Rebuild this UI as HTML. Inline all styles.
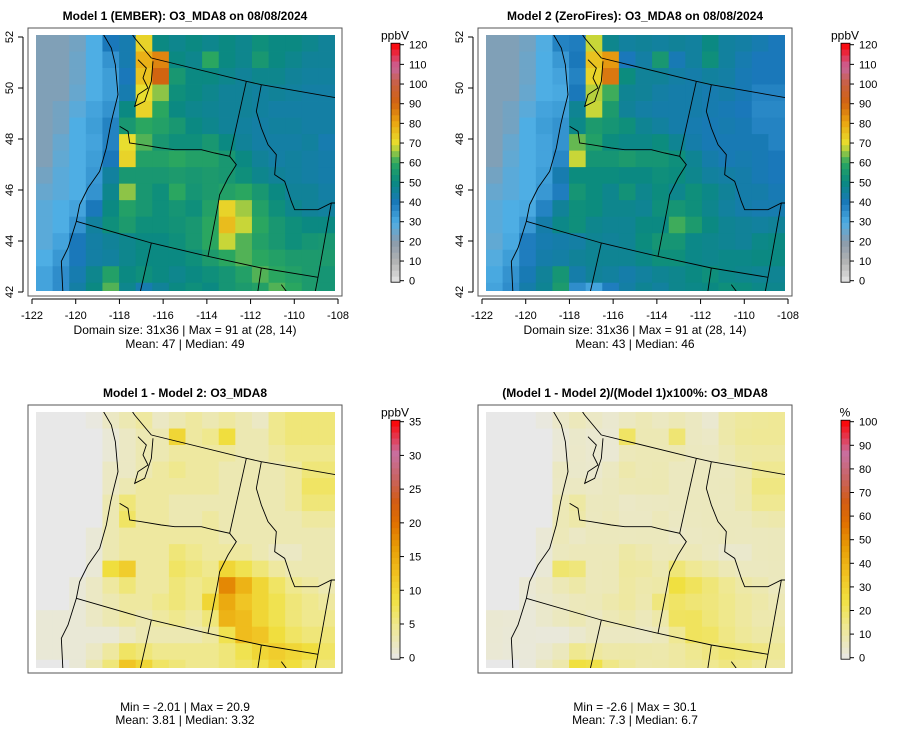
<!DOCTYPE html>
<html><head><meta charset="utf-8"><style>
body{margin:0;background:#fff;}
svg{display:block;font-family:"Liberation Sans",sans-serif;}
</style></head><body>
<svg id="fig" width="900" height="752" viewBox="0 0 900 752"></svg>
<script>
// coarse 18 cols x 16 rows (2x2 model cells each), row 0 = north
const model1Rows = [
[22,22,24,30,40,42,72,50,48,50,48,50,48,52,50,50,48,46],
[22,22,25,30,35,42,78,85,50,48,60,50,48,55,50,48,46,46],
[22,22,25,30,33,40,75,90,55,50,50,48,46,48,48,46,45,45],
[22,22,26,30,33,42,70,65,52,50,48,46,46,45,46,45,44,44],
[22,24,28,32,35,50,72,60,50,48,47,46,46,45,44,44,44,44],
[22,24,30,33,38,55,60,58,55,50,48,46,45,44,45,45,44,44],
[22,26,30,32,38,70,62,55,52,52,55,50,46,44,44,44,45,42],
[22,27,30,33,40,72,58,58,60,58,58,55,50,46,44,45,44,43],
[24,28,30,34,45,55,55,55,56,55,56,55,52,48,46,45,44,43],
[26,28,30,35,48,65,55,52,60,54,56,58,60,55,50,46,46,44],
[28,30,32,40,50,58,55,52,54,52,58,72,66,58,52,48,46,45],
[28,30,35,45,52,56,52,52,53,55,60,76,68,60,55,52,50,50],
[28,32,40,44,46,48,50,50,52,55,60,68,62,58,55,52,54,55],
[30,34,40,44,45,48,50,50,50,52,56,60,62,60,58,56,56,56],
[32,36,42,48,58,50,52,50,48,50,52,54,58,62,60,58,56,54],
[32,36,44,50,62,48,42,46,50,52,50,54,56,58,62,60,56,54]];
const diffRows = [
[0,0,0,0.5,2,3,4,2,3,4,3,4,3,2,5,6,6,6],
[0,0,0,0,1,2,3,3,10,4,5,9,3,3,5,6,6,6],
[0,0,0,0,1,2,3,3,4,4,4,4,3,3,4,5,5,5],
[0,0,0,0,2,2,3,4,5,4,4,3,3,3,3,4,6,6],
[0,0,0,0,2,3,4,4,4,4,4,3,3,3,3,4,7,7],
[0,0,0,0,3,6,4,4,3,3,3,3,3,3,3,4,6,6],
[0,0,0,0,3,7,4,4,3,3,4,3,3,3,3,3,4,4],
[0,0,0,1,3,4,4,4,4,4,4,3,3,3,3,3,3,3],
[0,0,0,1,3,4,4,4,6,5,4,4,4,3,2,2,3,3],
[0,0,0,1,9,11,4,4,7,6,5,10,8,6,4,3,3,3],
[0,0,1,2,4,6,4,4,6,5,6,18,14,10,7,5,4,3],
[0,0,1,2,3,4,4,5,6,5,10,15,12,10,8,6,5,4],
[1,1,1,2,3,4,3,4,5,4,6,14,13,10,8,6,5,5],
[1,1,1,1,1,2,3,3,3,3,4,8,13,12,9,7,6,6],
[1,1,1,2,4,7,6,5,5,5,5,6,8,10,11,10,9,7],
[0,0,1,3,6,12,10,7,6,5,5,6,7,8,10,9,7,6]];
const lonTicks = [-122,-120,-118,-116,-114,-112,-110,-108];
const latTicks = [42,44,46,48,50,52];
const ticks120 = [0,10,20,30,40,50,60,70,80,90,100,110,120];
const ticks35 = [0,5,10,15,20,25,30,35];
const ticks100 = [0,10,20,30,40,50,60,70,80,90,100];

const model2Rows = model1Rows.map((r,i)=>r.map((v,j)=>v-diffRows[i][j]));
const pctRows = model1Rows.map((r,i)=>r.map((v,j)=>diffRows[i][j]/v*100));

const palA=[[0,'#e6e6e6'],[0.083,'#b4b4b4'],[0.167,'#8c9cac'],[0.25,'#4eaee4'],[0.333,'#1a78ba'],[0.42,'#0a8a80'],[0.5,'#2aa660'],[0.58,'#e8e030'],[0.67,'#eaa410'],[0.75,'#d26410'],[0.83,'#c86040'],[0.9,'#c8649a'],[1,'#ff0000']];
const palB=[[0,'#e8e8e8'],[0.14,'#efe890'],[0.25,'#f0e040'],[0.36,'#f0c020'],[0.46,'#e8a008'],[0.57,'#e07000'],[0.66,'#d25c14'],[0.76,'#c86464'],[0.86,'#c870a0'],[1,'#ff0000']];
function hex(h){return [1,3,5].map(i=>parseInt(h.substr(i,2),16));}
function col(pal,f){f=Math.max(0,Math.min(1,f));for(let i=1;i<pal.length;i++){if(f<=pal[i][0]){const a=pal[i-1],b=pal[i];const t=(f-a[0])/(b[0]-a[0]);const A=hex(a[1]),B=hex(b[1]);return 'rgb('+A.map((x,k)=>Math.round(x+(B[k]-x)*t)).join(',')+')';}}return pal[pal.length-1][1];}

const NS='http://www.w3.org/2000/svg';
const svg=document.getElementById('fig');
function el(tag,attrs,parent){const e=document.createElementNS(NS,tag);for(const k in attrs)e.setAttribute(k,attrs[k]);(parent||svg).appendChild(e);return e;}
function txt(s,attrs,parent){const t=el('text',attrs,parent);t.textContent=s;return t;}

// map outlines in panel-relative pixels (zoom coords/3)
const lines=[
[[215,0],[250,60],[262,110],[270,200],[255,260],[248,290],[235,360],[215,430],[180,480],[155,530],[145,580],[120,660],[100,700],[105,800]],
[[275,295],[300,310],[305,345],[340,350],[400,360],[440,365],[520,365],[560,375],[605,385],[625,410],[600,450],[575,500],[570,530],[540,685]],
[[145,580],[370,645],[540,685],[700,720],[870,748]],
[[370,645],[335,800]],[[700,720],[688,800]],[[870,748],[860,800]],
[[655,160],[605,385]],
[[370,90],[655,160],[700,170],[940,212]],
[[700,170],[685,250],[700,300],[720,350],[745,380],[740,440],[770,460],[790,520],[800,545],[870,545],[910,525],[940,525]],
[[910,525],[870,748]],
[[300,0],[320,30],[345,60],[370,90]],
[[330,95],[355,120],[345,150],[360,180],[330,200],[320,235],[350,220],[370,160],[375,100]],
[[760,770],[775,790],[790,800]]];

function panel(ox,oy,rows,pal,vmax,ticks,unit,title,l1,l2,axes,name){
  const g=el('g',{transform:'translate('+ox+','+oy+')'});
  
  
  const gx0=8,gx1=307,gy0=7,gy1=263;
  const cw=(gx1-gx0)/18,ch=(gy1-gy0)/15.5;
  const clip=el('clipPath',{id:'c'+name},g);el('rect',{x:gx0,y:gy0,width:gx1-gx0,height:gy1-gy0},clip);
  const hg=el('g',{'clip-path':'url(#c'+name+')'},g);
  rows.forEach((r,i)=>r.forEach((v,j)=>{
    const c=el('rect',{x:(gx0+j*cw).toFixed(2),y:(gy0+i*ch).toFixed(2),width:(cw+0.4).toFixed(2),height:(ch+0.4).toFixed(2),fill:col(pal,v/vmax)},hg);
    
    
  }));
  const mg=el('g',{'clip-path':'url(#c'+name+')',fill:'none',stroke:'#000','stroke-width':0.9},g);
  
  
  lines.forEach(l=>el('polyline',{points:l.map(p=>(p[0]/3)+','+(p[1]/3)).join(' ')},mg));
  const box=el('rect',{x:0,y:0,width:314,height:268,fill:'none',stroke:'#555','stroke-width':1},g);
  
  
  const tt=txt(title,{x:157,y:-8,'text-anchor':'middle','font-size':12,'font-weight':'bold'},g);
  
  
  if(axes){
    const xs=lon=>4+(lon+122)*306/14, ys=lat=>264-(lat-42)*25.5;
    el('line',{x1:xs(-122),x2:xs(-108),y1:271,y2:271,stroke:'#000'},g);
    lonTicks.forEach(v=>{el('line',{x1:xs(v),x2:xs(v),y1:271,y2:276,stroke:'#000'},g);
      const t=txt(String(v).replace('-','-'),{x:xs(v),y:291,'text-anchor':'middle','font-size':11},g);
      });
    el('line',{x1:-5,x2:-5,y1:ys(42),y2:ys(52),stroke:'#000'},g);
    latTicks.forEach(v=>{el('line',{x1:-10,x2:-5,y1:ys(v),y2:ys(v),stroke:'#000'},g);
      const t=txt(String(v),{x:-15,y:ys(v),'text-anchor':'middle','font-size':11,transform:'rotate(-90 -15 '+ys(v)+')'},g);
      });
  }
  const ly=axes?306:305;
  const a=txt(l1,{x:157,y:axes?306:306,'text-anchor':'middle','font-size':12},g);
  
  const b=txt(l2,{x:157,y:axes?320:319,'text-anchor':'middle','font-size':12},g);
  
  // colorbar
  const cb=el('g',{},g);
  
  
  const by0=16.7,by1=252.7,bx=363;
  const n=40;
  for(let k=0;k<n;k++){el('rect',{x:bx,y:by0-1.5+(by1-by0+3)*(n-1-k)/n,width:9,height:(by1-by0+3)/n+0.4,fill:col(pal,(k+0.5)/n)},cb);}
  el('rect',{x:bx,y:by0-1.5,width:9,height:by1-by0+3,fill:'none',stroke:'#000','stroke-width':0.8},cb);
  ticks.forEach(v=>{const y=by1-(by1-by0)*v/vmax;el('line',{x1:bx+9,x2:bx+13,y1:y,y2:y,stroke:'#000'},cb);
    const t=txt(String(v),{x:bx+18,y:y+4,'font-size':11},cb);
    });
  const u=txt(unit,{x:bx+4,y:by0-5,'text-anchor':'middle','font-size':12},cb);
  
}
panel(28,28,model1Rows,palA,120,ticks120,'ppbV','Model 1 (EMBER): O3_MDA8 on 08/08/2024','Domain size: 31x36 | Max = 91 at (28, 14)','Mean: 47 |  Median: 49',true,'panel-model1');
panel(478,28,model2Rows,palA,120,ticks120,'ppbV','Model 2 (ZeroFires): O3_MDA8 on 08/08/2024','Domain size: 31x36 | Max = 91 at (28, 14)','Mean: 43 |  Median: 46',true,'panel-model2');
panel(28,405,diffRows,palB,35,ticks35,'ppbV','Model 1 - Model 2: O3_MDA8','Min = -2.01 | Max = 20.9','Mean: 3.81 |  Median: 3.32',false,'panel-diff');
panel(478,405,pctRows,palB,100,ticks100,'%','(Model 1 - Model 2)/(Model 1)x100%: O3_MDA8','Min = -2.6 | Max = 30.1','Mean: 7.3 |  Median: 6.7',false,'panel-pct');
</script>
</body></html>
